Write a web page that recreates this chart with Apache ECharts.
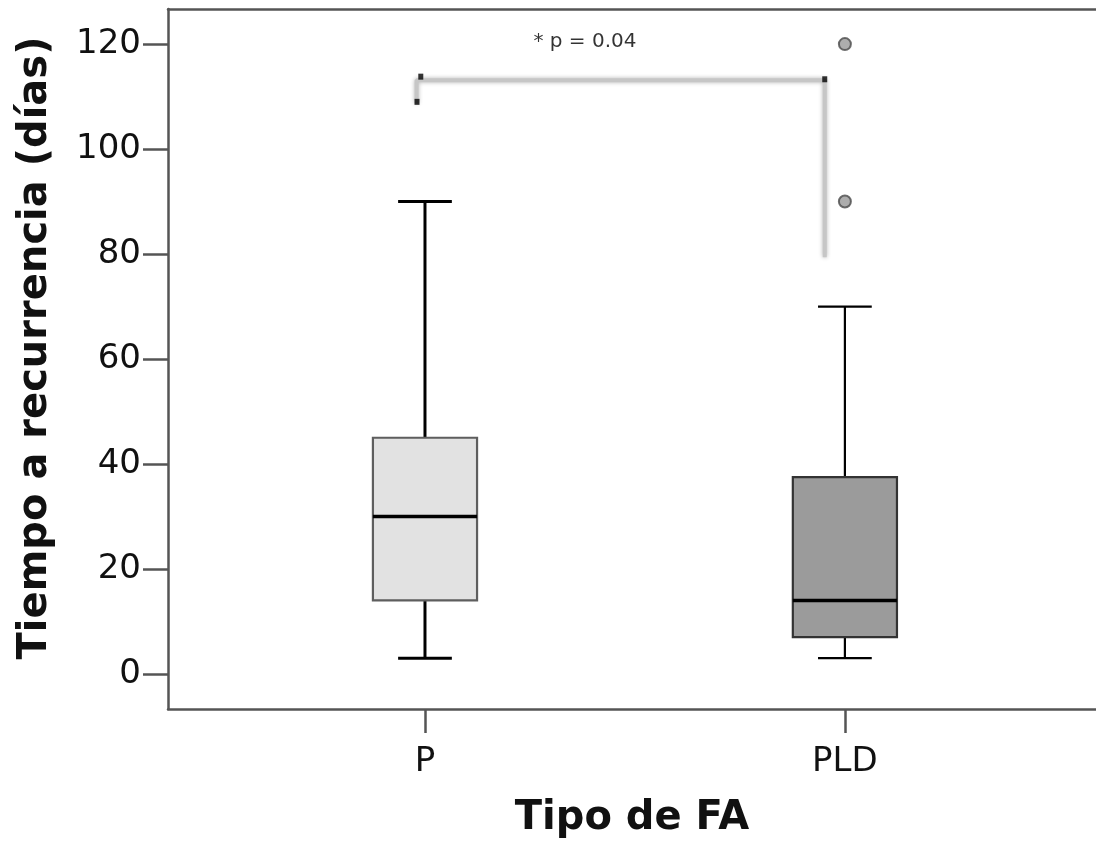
<!DOCTYPE html>
<html>
<head>
<meta charset="utf-8">
<script src="https://cdn.jsdelivr.net/npm/echarts@6/dist/echarts.min.js"></script>
<style>
html,body{margin:0;padding:0;background:#fff;}
#chart{width:1096px;height:844px;}
</style>
</head>
<body>
<div id="chart"></div>
<script>
// ---- data ----
const categories = ['P', 'PLD'];
const categoryPos = [1, 2];
// [min, Q1, median, Q3, max]
const boxStats = [
  [3, 14, 30, 45, 90],
  [3, 7, 14, 37.5, 70]
];
const outliers = [[2, 90], [2, 120]];
const yTicks = [0, 20, 40, 60, 80, 100, 120];
const boxFills = ['#e2e2e2', '#9b9b9b'];
const boxBorders = ['#5e5e5e', '#333333'];
// significance bracket (data coords)
const bracketPath = [[0.980, 108.7], [0.980, 113.1], [1.952, 113.1], [1.952, 79.4]];
const bracketDots = [[0.990, 113.8], [0.981, 109.0], [1.952, 113.3]];
const pLabel = '* p = 0.04';
const pLabelPos = [1.381, 120.4];

const boxData = boxStats.map((s, i) => [categoryPos[i]].concat(s));

const chart = echarts.init(document.getElementById('chart'), null, {renderer: 'canvas'});
const BOX_W = 0.248, CAP_W = 0.128;
const X_MIN = 0.388, X_MAX = 2.598;

const option = {
  backgroundColor: '#fff',
  animation: false,
  grid: {left: 168, top: 9, right: 0, bottom: 131, show: false},
  xAxis: [{
    type: 'value', min: X_MIN, max: X_MAX,
    splitLine: {show: false},
    axisLine: {show: true, onZero: false, lineStyle: {color: '#555', width: 2.5}},
    axisTick: {show: true, customValues: categoryPos, length: 24, lineStyle: {color: '#555', width: 2.5}},
    axisLabel: {customValues: categoryPos, formatter: v => categories[Math.round(v) - 1] || '', color: '#111', fontFamily: 'DejaVu Sans', fontSize: 34, margin: 36},
    name: 'Tipo de FA', nameLocation: 'middle', nameGap: 90,
    nameTextStyle: {fontFamily: 'DejaVu Sans', fontWeight: 'bold', fontSize: 40, color: '#111'}
  }, {
    type: 'value', min: X_MIN, max: X_MAX, position: 'top',
    splitLine: {show: false},
    axisLine: {show: true, onZero: false, lineStyle: {color: '#555', width: 2.5}},
    axisTick: {show: false}, axisLabel: {show: false}
  }],
  yAxis: {
    type: 'value', min: -6.68, max: 126.69,
    splitLine: {show: false},
    axisLine: {show: true, onZero: false, lineStyle: {color: '#555', width: 2.5}},
    axisTick: {show: true, customValues: yTicks, length: 25, lineStyle: {color: '#555', width: 2.5}},
    axisLabel: {customValues: yTicks, color: '#111', fontFamily: 'DejaVu Sans', fontSize: 34, margin: 27},
    name: 'Tiempo a recurrencia (días)', nameLocation: 'middle', nameGap: 112, nameRotate: 90,
    nameTextStyle: {fontFamily: 'DejaVu Sans', fontWeight: 'bold', fontSize: 40, color: '#111', padding: [0, 0, 0, 22]}
  },
  series: [
    {
      type: 'custom',
      data: boxData,
      encode: {x: 0, y: [1, 2, 3, 4, 5]},
      renderItem: function (params, api) {
        const i = params.dataIndex;
        const x = api.value(0);
        const pMin = api.coord([x, api.value(1)]);
        const pQ1 = api.coord([x, api.value(2)]);
        const pMed = api.coord([x, api.value(3)]);
        const pQ3 = api.coord([x, api.value(4)]);
        const pMax = api.coord([x, api.value(5)]);
        const halfBox = api.size([BOX_W, 0])[0] / 2;
        const halfCap = api.size([CAP_W, 0])[0] / 2;
        const cx = pMed[0];
        const wStyle = {stroke: '#000', lineWidth: i === 0 ? 3 : 2.2};
        return {
          type: 'group',
          children: [
            {type: 'line', shape: {x1: cx, y1: pQ3[1], x2: cx, y2: pMax[1]}, style: wStyle},
            {type: 'line', shape: {x1: cx, y1: pQ1[1], x2: cx, y2: pMin[1]}, style: wStyle},
            {type: 'line', shape: {x1: cx - halfCap, y1: pMax[1], x2: cx + halfCap, y2: pMax[1]}, style: wStyle},
            {type: 'line', shape: {x1: cx - halfCap, y1: pMin[1], x2: cx + halfCap, y2: pMin[1]}, style: wStyle},
            {type: 'rect', shape: {x: cx - halfBox, y: pQ3[1], width: halfBox * 2, height: pQ1[1] - pQ3[1]},
              style: {fill: boxFills[i], stroke: boxBorders[i], lineWidth: 2.2}},
            {type: 'line', shape: {x1: cx - halfBox, y1: pMed[1], x2: cx + halfBox, y2: pMed[1]}, style: {stroke: '#000', lineWidth: 3.5}}
          ]
        };
      },
      z: 3
    },
    {
      type: 'scatter',
      data: outliers,
      symbol: 'circle', symbolSize: 12,
      itemStyle: {color: '#999', borderColor: '#4a4a4a', borderWidth: 2},
      z: 4
    },
    {
      type: 'line',
      data: bracketPath,
      symbol: 'none',
      lineStyle: {color: '#c6c6c6', width: 4, shadowBlur: 4, shadowColor: 'rgba(0,0,0,0.3)'},
      z: 2
    },
    {
      type: 'scatter',
      data: bracketDots,
      symbol: 'rect', symbolSize: [5, 6],
      itemStyle: {color: '#000'},
      z: 5
    },
    {
      type: 'scatter',
      data: [pLabelPos],
      symbolSize: 0,
      label: {show: true, position: 'inside', formatter: pLabel, fontFamily: 'DejaVu Sans', fontSize: 20, color: '#000'},
      z: 5
    }
  ]
};
chart.setOption(option);
</script>
</body>
</html>
